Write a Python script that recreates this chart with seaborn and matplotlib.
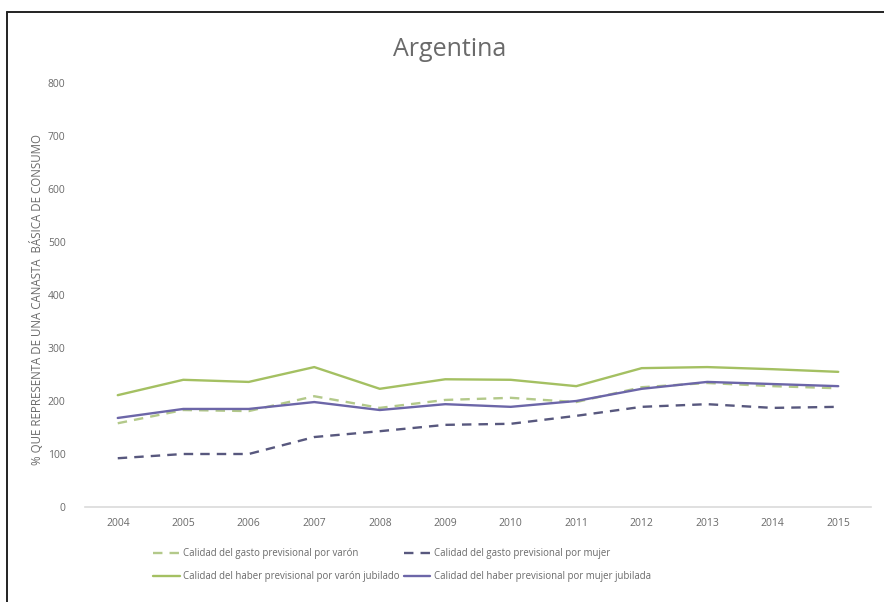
import matplotlib
matplotlib.use("Agg")
import matplotlib.pyplot as plt
from matplotlib.lines import Line2D
import seaborn as sns
import pandas as pd

years = [2004, 2005, 2006, 2007, 2008, 2009, 2010, 2011, 2012, 2013, 2014, 2015]
gasto_varon = [158, 183, 181, 209, 187, 202, 206, 198, 226, 234, 228, 224]
gasto_mujer = [92, 100, 100, 132, 143, 155, 157, 172, 189, 194, 187, 189]
haber_varon = [211, 240, 236, 264, 223, 241, 240, 228, 262, 264, 260, 255]
haber_mujer = [168, 185, 185, 198, 183, 194, 189, 200, 223, 236, 232, 228]

labels = [
    "Calidad del gasto previsional por varón",
    "Calidad del gasto previsional por mujer",
    "Calidad del haber previsional por varón jubilado",
    "Calidad del haber previsional por mujer jubilada",
]
y_ticks = [0, 100, 200, 300, 400, 500, 600, 700, 800]

sns.set_theme(style="white")
plt.rcParams["font.family"] = ["Open Sans", "DejaVu Sans"]

fig = plt.figure(figsize=(8.84, 6.02), dpi=100)
ax = fig.add_axes([85 / 884, 1 - 507 / 602, (871 - 85) / 884, (507 - 83) / 602])

styles = [
    ("#b3c98a", (4, 3)),
    ("#58587e", (4, 3)),
    ("#a4c062", None),
    ("#6c66a8", None),
]
for values, label, (color, dash) in zip(
        [gasto_varon, gasto_mujer, haber_varon, haber_mujer], labels, styles):
    df = pd.DataFrame({"year": years, "value": values})
    sns.lineplot(data=df, x="year", y="value", ax=ax, color=color,
                 linewidth=1.7, label=label, legend=False)
    if dash:
        ax.lines[-1].set_dashes(dash)

ax.set_xlim(2003.5, 2015.5)
ax.set_ylim(0, 800)
ax.set_xticks(years)
ax.set_xticklabels([str(y) for y in years])
ax.set_yticks(y_ticks)
ax.tick_params(axis="both", labelsize=7.5, colors="#6a6a6a", length=0)
ax.tick_params(axis="x", pad=8)
ax.tick_params(axis="y", pad=14)
for side in ["top", "right", "left"]:
    ax.spines[side].set_visible(False)
ax.spines["bottom"].set_color("#dadada")
ax.spines["bottom"].set_linewidth(1.2)
ax.set_xlabel("")
ax.set_ylabel("% QUE REPRESENTA DE UNA CANASTA  BÁSICA DE CONSUMO",
              fontsize=8.3, color="#6a6a6a")
ax.yaxis.set_label_coords(-0.052, 0.49)

fig.text(450 / 884, 1 - 50 / 602, "Argentina", ha="center", va="center",
         fontsize=18, color="#6a6a6a")

lines = ax.get_lines()
order = [0, 2, 1, 3]
leg = fig.legend([lines[i] for i in order], [labels[i] for i in order],
                 loc="center", ncol=2,
                 bbox_to_anchor=(402 / 884, 1 - 565 / 602), frameon=False,
                 fontsize=6.9, labelcolor="#6a6a6a", handlelength=2.8,
                 handletextpad=0.4, columnspacing=0.4, labelspacing=1.25)

# outer frame
fig.add_artist(Line2D([7 / 884, 7 / 884], [0, 1 - 12 / 602], color="#222222",
                      linewidth=1.4, transform=fig.transFigure))
fig.add_artist(Line2D([7 / 884, 1], [1 - 12 / 602, 1 - 12 / 602],
                      color="#222222", linewidth=1.4, transform=fig.transFigure))

fig.savefig("out.png", dpi=100)
